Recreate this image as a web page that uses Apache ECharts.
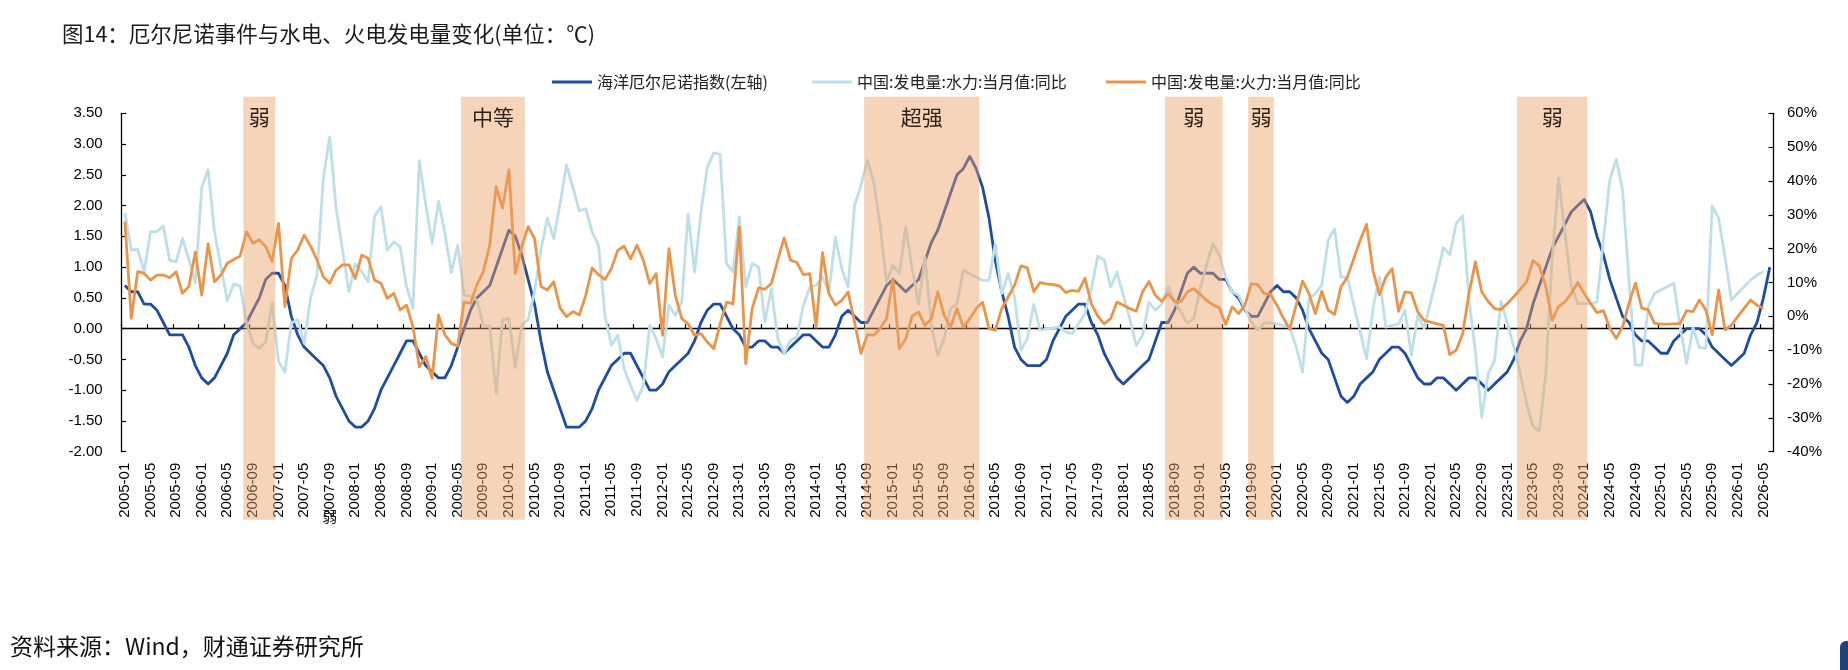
<!DOCTYPE html>
<html>
<head>
<meta charset="utf-8">
<title>图14</title>
<script src="https://cdn.jsdelivr.net/npm/echarts@6/dist/echarts.min.js"></script>
<style>
  html, body { margin: 0; padding: 0; background: #fff; }
  #main { width: 1848px; height: 670px; }
</style>
</head>
<body>
<div id="main"></div>
<script>
// 月份：2005-01 到 2026-06
var months = [];
for (var y = 2005; y <= 2026; y++) {
    for (var m = 1; m <= 12; m++) {
        if (y === 2026 && m > 6) break;
        months.push(y + '-' + (m < 10 ? '0' + m : m));
    }
}

// 海洋厄尔尼诺指数(左轴)
var oni = [
    0.7, 0.6, 0.6, 0.4, 0.4, 0.3, 0.1, -0.1, -0.1, -0.1, -0.3, -0.6,
    -0.8, -0.9, -0.8, -0.6, -0.4, -0.1, 0.0, 0.1, 0.3, 0.5, 0.8, 0.9,
    0.9, 0.7, 0.2, -0.1, -0.3, -0.4, -0.5, -0.6, -0.8, -1.1, -1.3, -1.5,
    -1.6, -1.6, -1.5, -1.3, -1.0, -0.8, -0.6, -0.4, -0.2, -0.2, -0.4, -0.6,
    -0.7, -0.8, -0.8, -0.6, -0.3, 0.0, 0.3, 0.5, 0.6, 0.7, 1.0, 1.3,
    1.6, 1.5, 1.2, 0.8, 0.4, -0.2, -0.7, -1.0, -1.3, -1.6, -1.6, -1.6,
    -1.5, -1.3, -1.0, -0.8, -0.6, -0.5, -0.4, -0.4, -0.6, -0.8, -1.0, -1.0,
    -0.9, -0.7, -0.6, -0.5, -0.4, -0.2, 0.1, 0.3, 0.4, 0.4, 0.2, 0.0,
    -0.1, -0.3, -0.3, -0.2, -0.2, -0.3, -0.3, -0.4, -0.3, -0.2, -0.1, -0.1,
    -0.2, -0.3, -0.3, -0.1, 0.2, 0.3, 0.2, 0.1, 0.1, 0.3, 0.5, 0.7,
    0.8, 0.7, 0.6, 0.7, 0.8, 1.1, 1.4, 1.6, 1.9, 2.2, 2.5, 2.6,
    2.8, 2.6, 2.3, 1.8, 1.1, 0.6, 0.2, -0.3, -0.5, -0.6, -0.6, -0.6,
    -0.5, -0.2, 0.0, 0.2, 0.3, 0.4, 0.4, 0.1, -0.1, -0.4, -0.6, -0.8,
    -0.9, -0.8, -0.7, -0.6, -0.5, -0.2, 0.1, 0.1, 0.3, 0.6, 0.9, 1.0,
    0.9, 0.9, 0.9, 0.8, 0.8, 0.6, 0.5, 0.3, 0.2, 0.2, 0.4, 0.6,
    0.7, 0.6, 0.6, 0.5, 0.3, 0.0, -0.2, -0.4, -0.5, -0.8, -1.1, -1.2,
    -1.1, -0.9, -0.8, -0.7, -0.5, -0.4, -0.3, -0.3, -0.4, -0.6, -0.8, -0.9,
    -0.9, -0.8, -0.8, -0.9, -1.0, -0.9, -0.8, -0.8, -0.9, -1.0, -0.9, -0.8,
    -0.7, -0.5, -0.2, 0.0, 0.4, 0.7, 1.0, 1.3, 1.5, 1.7, 1.9, 2.0,
    2.1, 1.9, 1.5, 1.2, 0.8, 0.5, 0.2, 0.1, -0.1, -0.2, -0.2, -0.3,
    -0.4, -0.4, -0.2, -0.1, 0.0, 0.0, 0.0, -0.1, -0.3, -0.4, -0.5, -0.6,
    -0.5, -0.4, -0.1, 0.1, 0.5, 1.0
];

// 中国:发电量:水力:当月值:同比 (%)
var hydro = [
    30.6, 19.6, 19.8, 13.2, 25.0, 25.0, 26.7, 16.5, 16.2, 23.0, 16.8, 9.8,
    38.0, 43.4, 25.0, 14.7, 4.6, 9.6, 9.0, -2.0, -8.0, -9.5, -7.5, 4.1,
    -13.4, -16.4, -2.0, -1.0, -8.0, 5.3, 12.2, 40.8, 53.0, 32.0, 19.6, 7.3,
    15.5, 13.2, 10.2, 29.5, 32.4, 19.6, 22.0, 20.6, 8.8, 2.4, 46.0, 33.0,
    21.6, 34.0, 24.5, 13.0, 21.0, 6.3, 6.0, 4.8, -2.6, -2.9, -22.8, -1.0,
    -0.6, -15.0, -2.6, -1.0, 7.3, 19.6, 29.0, 23.0, 33.4, 44.7, 38.0, 31.2,
    31.8, 24.9, 21.0, 0.3, -8.6, -5.6, -15.5, -20.4, -24.8, -20.4, -2.7, -6.6,
    -12.0, 3.3, 0.3, 4.2, 30.3, 13.1, 30.8, 44.1, 48.3, 47.9, 15.6, 13.1,
    29.4, 8.7, 15.6, 14.6, -1.7, 8.2, -6.6, -11.0, -7.1, -6.1, 3.3, 8.5,
    9.2, 11.6, 7.2, 23.4, 14.1, 8.7, 32.8, 38.7, 46.1, 39.7, 26.9, 10.1,
    15.1, 12.6, 26.4, 14.1, 3.7, 17.5, -2.7, -11.5, -6.6, 2.3, 3.7, 13.6,
    12.6, 11.6, 10.6, 10.6, 21.5, 6.7, 12.6, 5.7, -10.0, -6.6, 3.5, -4.1,
    -3.8, -3.4, -3.2, -4.6, -5.1, -2.2, 0.8, 8.2, 17.8, 16.6, 8.7, 13.1,
    6.2, -0.7, -8.6, -5.6, 4.2, 1.8, 3.7, 8.7, 4.2, 1.3, -2.0, -0.7,
    8.2, 15.1, 21.5, 18.0, 11.6, 7.2, 6.2, 2.3, -1.7, -4.1, -2.0, -1.9,
    -2.2, -2.7, -3.2, -9.1, -16.5, 5.2, 6.7, 9.2, 22.5, 25.9, 11.6, 11.6,
    3.3, -4.6, -12.5, 2.3, 11.6, -3.2, -2.7, -2.2, 1.8, -11.5, 0.3, -3.6,
    4.2, 12.1, 20.3, 18.2, 27.4, 29.7, 5.2, -10.5, -29.8, -16.9, -13.0, 4.5,
    -2.1, -9.0, -16.8, -25.7, -32.6, -33.8, -16.8, 17.1, 40.8, 24.5, 8.8, 3.8,
    3.8, 3.8, 4.3, 22.6, 40.3, 46.4, 37.3, 10.7, -14.4, -14.4, 2.9, 6.8,
    7.8, 8.8, 9.8, -3.1, -13.9, -3.3, -9.2, -9.5, 32.6, 29.0, 17.6, 4.8,
    6.8, 8.8, 10.7, 12.2, 13.2, null
];

// 中国:发电量:火力:当月值:同比 (%)
var thermal = [
    28.0, -0.6, 13.2, 12.7, 10.7, 12.2, 12.2, 11.4, 13.2, 6.8, 8.8, 19.0,
    6.3, 21.4, 10.2, 12.2, 15.7, 16.8, 17.8, 25.0, 21.6, 22.6, 20.6, 16.2,
    27.5, 2.9, 17.1, 19.6, 24.0, 20.8, 16.7, 11.7, 9.8, 13.7, 15.2, 15.2,
    11.2, 18.1, 17.1, 10.7, 9.8, 5.3, 6.8, 1.9, 3.3, -3.0, -14.9, -11.9,
    -18.3, 0.4, -5.5, -8.0, -8.8, 4.3, 3.8, 9.3, 13.2, 21.0, 38.3, 32.0,
    43.3, 12.7, 20.6, 26.5, 23.0, 8.8, 7.8, 10.2, 2.4, -0.1, 1.4, 0.4,
    6.2, 14.3, 12.3, 10.9, 14.1, 19.5, 20.7, 17.0, 21.0, 16.6, 9.7, 12.6,
    -5.6, 20.0, 6.2, -0.7, -2.2, -5.6, -5.1, -7.6, -9.6, -2.2, 4.2, 3.7,
    26.4, -14.0, 2.3, 8.4, 8.0, 9.7, 16.6, 23.2, 16.6, 15.9, 12.3, 12.6,
    -3.2, 18.8, 6.7, 3.3, 4.7, 7.2, -1.7, -11.0, -5.4, -5.6, -3.6, -0.7,
    11.1, -9.6, -6.6, 0.1, 1.3, -2.7, -0.7, 7.2, 0.3, -3.2, 2.3, -3.2,
    -0.7, 2.3, 4.2, -3.6, -4.1, 2.3, 5.7, 9.2, 14.9, 14.3, 7.3, 10.0,
    9.6, 9.4, 9.0, 7.0, 7.7, 7.4, 11.3, 3.7, 0.1, -2.2, -0.7, 4.2,
    3.3, 2.3, 1.5, 7.2, 10.3, 6.2, 4.4, 6.7, 4.4, 4.4, 7.2, 8.2,
    6.5, 4.7, 3.4, 2.5, -2.4, 2.8, 0.8, 3.3, 9.7, 9.4, 6.7, 6.5,
    3.3, -0.5, -3.8, 3.3, 10.4, 6.7, 0.8, 7.4, 1.8, 0.6, 8.7, 11.6,
    17.0, 22.5, 27.2, 13.6, 6.4, 11.6, 14.1, 1.5, 7.2, 6.9, 1.3, -1.2,
    -1.7, -2.2, -2.7, -11.3, -10.0, -5.3, 6.7, 16.1, 7.2, 4.4, 2.3, 2.0,
    3.8, 5.8, 8.0, 10.2, 16.5, 14.9, 8.8, -1.1, 2.9, 4.3, 6.8, 10.0,
    6.8, 3.8, 1.1, 1.7, -3.5, -6.5, -3.1, 3.8, 9.8, 2.4, 1.9, -2.1,
    -2.3, -2.3, -2.2, -2.1, 1.7, 1.4, 4.8, 1.9, -5.5, 7.8, -4.0, -2.6,
    -0.1, 2.4, 4.8, 3.3, 2.4, null
];

// 厄尔尼诺事件区间
var bandStart = ['2006-08', '2009-06', '2014-09', '2018-08', '2019-09', '2023-03'];
var bandEnd   = ['2006-12', '2010-03', '2016-02', '2019-04', '2019-12', '2024-01'];
var bandNames = ['弱', '中等', '超强', '弱', '弱', '弱'];

var names = ['海洋厄尔尼诺指数(左轴)', '中国:发电量:水力:当月值:同比', '中国:发电量:火力:当月值:同比'];

var CJK = '"Noto Sans CJK SC", sans-serif';
var NUM = '"Liberation Sans", Arial, sans-serif';

function renderBand(params, api) {
    var k = params.dataIndex;
    var half = api.size([1, 0])[0] / 2;
    var xa = api.coord([months.indexOf(bandStart[k]), 0])[0] - half;
    var xb = api.coord([months.indexOf(bandEnd[k]), 0])[0] + half;
    var cs = params.coordSys;
    var top = cs.y - 16.5;
    var bottom = cs.y + cs.height + 68;
    return {
        type: 'group',
        children: [
            {
                type: 'rect', z2: 0,
                shape: { x: xa, y: top, width: xb - xa, height: bottom - top },
                style: { fill: 'rgba(236,160,100,0.45)' }
            },
            {
                type: 'text', z2: 1,
                style: {
                    text: bandNames[k], x: (xa + xb) / 2, y: cs.y + 4,
                    align: 'center', verticalAlign: 'middle',
                    font: '21px ' + CJK, fill: '#2e2117'
                }
            }
        ]
    };
}

function legendAt(name, left) {
    return {
        data: [name], left: left, top: 69,
        icon: 'rect', itemWidth: 40, itemHeight: 3, itemGap: 5,
        selectedMode: false,
        textStyle: { fontFamily: CJK, fontSize: 16, color: '#222' }
    };
}

var dom = document.getElementById('main');
var myChart = echarts.init(dom);

var option = {
    animation: false,
    backgroundColor: '#fff',
    title: {
        text: '图14：厄尔尼诺事件与水电、火电发电量变化(单位：℃)',
        left: 57, top: 18,
        textStyle: { fontFamily: CJK, fontSize: 21.5, fontWeight: 'normal', color: '#1a1a1a' }
    },
    legend: [legendAt(names[0], 547), legendAt(names[1], 807), legendAt(names[2], 1101)],
    grid: { left: 121.7, right: 75, top: 113.3, bottom: 218.3 },
    xAxis: [
        {
            type: 'category', data: months, boundaryGap: true,
            axisLine: { onZero: true, lineStyle: { color: '#000', width: 1.3 } },
            axisTick: { show: true, interval: 3, inside: true, length: 4.5, lineStyle: { color: '#000', width: 1.2 } },
            axisLabel: { show: false },
            splitLine: { show: false }
        },
        {
            type: 'category', data: months, boundaryGap: true, position: 'bottom',
            axisLine: { show: false, onZero: false },
            axisTick: { show: false },
            axisLabel: { interval: 3, rotate: 90, margin: 11, fontFamily: NUM, fontSize: 15, color: '#000' },
            splitLine: { show: false }
        }
    ],
    yAxis: [
        {
            type: 'value', min: -2, max: 3.5, interval: 0.5,
            axisLine: { show: true, lineStyle: { color: '#000', width: 1.3 } },
            axisTick: { show: true, inside: true, length: 4.5, lineStyle: { color: '#000', width: 1.2 } },
            axisLabel: {
                margin: 19, fontFamily: NUM, fontSize: 15, color: '#000',
                formatter: function (v) { return v.toFixed(2); }
            },
            splitLine: { show: false }
        },
        {
            type: 'value', min: -40, max: 60, interval: 10, position: 'right',
            axisLine: { show: true, lineStyle: { color: '#000', width: 1.3 } },
            axisTick: { show: true, inside: true, length: 4.5, lineStyle: { color: '#000', width: 1.2 } },
            axisLabel: { margin: 14, fontFamily: NUM, fontSize: 15, color: '#000', formatter: '{value}%' },
            splitLine: { show: false }
        }
    ],
    series: [
        {
            name: names[0], type: 'line', xAxisIndex: 0, yAxisIndex: 0, data: oni,
            symbol: 'none', z: 2, color: '#1E4C9F',
            lineStyle: { width: 2.8, color: '#1E4C9F', join: 'round' }
        },
        {
            name: names[1], type: 'line', xAxisIndex: 0, yAxisIndex: 1, data: hydro,
            symbol: 'none', z: 3, color: '#BEDFE8',
            lineStyle: { width: 2.8, color: '#BEDFE8', join: 'round' }
        },
        {
            name: names[2], type: 'line', xAxisIndex: 0, yAxisIndex: 1, data: thermal,
            symbol: 'none', z: 4, color: '#E8954B',
            lineStyle: { width: 2.8, color: '#E8954B', join: 'round' }
        },
        {
            name: 'bands', type: 'custom', xAxisIndex: 0, yAxisIndex: 0, z: 10,
            silent: true, clip: false,
            renderItem: renderBand,
            data: bandStart.map(function (s) { return [s, 0]; })
        }
    ]
};

if (option && typeof option === "object") {
    myChart.setOption(option, true);

    // 资料来源 + 横轴下方多余的"弱" + 右下角色块
    var strayX = myChart.convertToPixel({ xAxisIndex: 1 }, '2007-09');
    myChart.setOption({
        graphic: [
            {
                type: 'text', left: 10, top: 635,
                style: { text: '资料来源：Wind，财通证券研究所', font: '23px ' + CJK, fill: '#111' }
            },
            {
                type: 'text', x: strayX, y: 516, z: 20,
                style: { text: '弱', font: '15px ' + CJK, fill: '#222', align: 'center', verticalAlign: 'middle' }
            },
            {
                type: 'rect', x: 1840, y: 641,
                shape: { x: 0, y: 0, width: 20, height: 40, r: 6 },
                style: { fill: '#1F3F7D' }
            }
        ]
    });
}
</script>
</body>
</html>
